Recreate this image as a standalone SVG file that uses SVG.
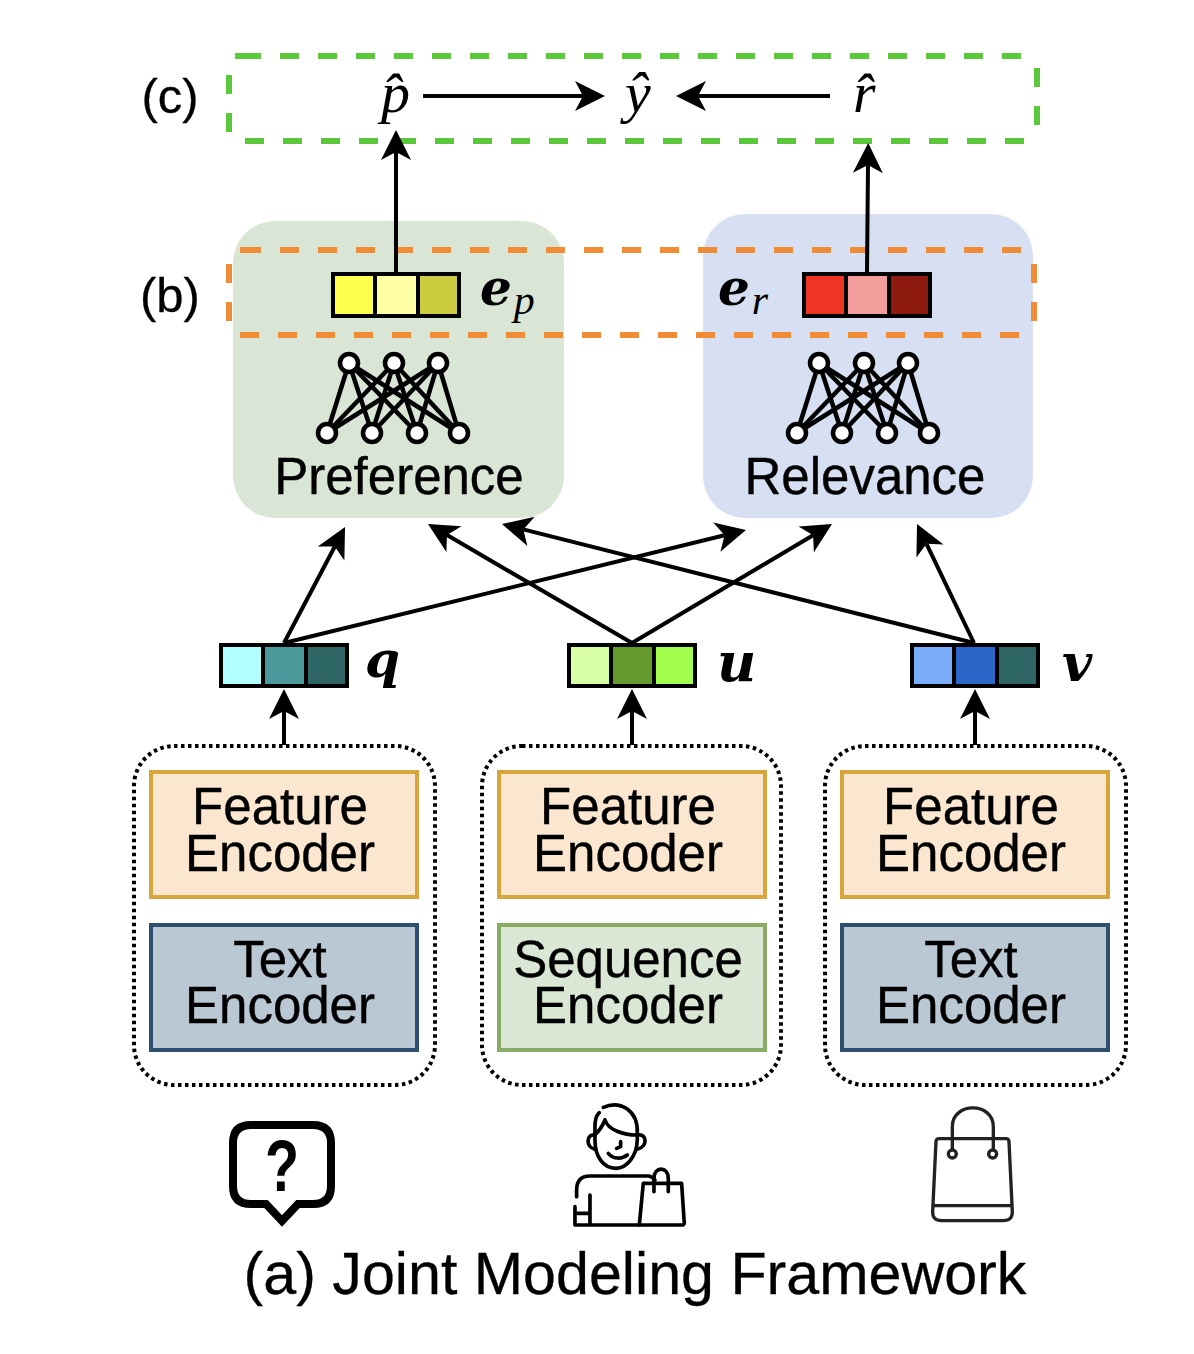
<svg xmlns="http://www.w3.org/2000/svg" width="1194" height="1354" viewBox="0 0 1194 1354">
<style>
text{font-family:"Liberation Sans",Arial,sans-serif;fill:#000;text-anchor:middle}
.lbl{font-size:51px;stroke:#000;stroke-width:.4px}
.side{font-size:49px;stroke:#000;stroke-width:.3px}
.m{font-family:"Liberation Serif","Times New Roman",serif;font-style:italic;font-size:58px;text-anchor:start}
.b{font-family:"DejaVu Serif",serif;font-style:italic;font-weight:bold;font-size:50px;text-anchor:start}
.s{font-family:"Liberation Serif","Times New Roman",serif;font-style:italic;font-weight:normal;font-size:42px;text-anchor:start}
.c{fill:none;stroke:#000;stroke-width:4;marker-end:url(#arr)}
.g{fill:none;stroke:#5ac83a;stroke-width:6;stroke-dasharray:19 19}
.o{fill:none;stroke:#f08c36;stroke-width:6;stroke-dasharray:19 19}
.dot{fill:none;stroke:#000;stroke-width:4;stroke-dasharray:3.5 3.5}
.fe{fill:#fbe6d0;stroke:#d8a43c;stroke-width:4}
.te{fill:#bac8d3;stroke:#2f4f70;stroke-width:4}
.se{fill:#d9e7d4;stroke:#88ab66;stroke-width:4}
.v{stroke:#000;stroke-width:4}
.nn line{stroke:#000;stroke-width:4.5}
.nn circle{fill:#fff;stroke:#000;stroke-width:4.5}
.ic{fill:none;stroke:#000;stroke-width:11;stroke-linecap:round;stroke-linejoin:round}
</style>
<defs>
<marker id="arr" markerUnits="userSpaceOnUse" orient="auto" refX="0" refY="0" overflow="visible" markerWidth="40" markerHeight="40">
<path d="M22,0 L-8,-15 L0,0 L-8,15 Z" fill="#000"/>
</marker>
<g id="net">
<g class="nn">
<line x1="349" y1="363" x2="327" y2="433"/><line x1="349" y1="363" x2="372" y2="433"/><line x1="349" y1="363" x2="417" y2="433"/><line x1="349" y1="363" x2="459" y2="433"/>
<line x1="394" y1="363" x2="327" y2="433"/><line x1="394" y1="363" x2="372" y2="433"/><line x1="394" y1="363" x2="417" y2="433"/><line x1="394" y1="363" x2="459" y2="433"/>
<line x1="438" y1="363" x2="327" y2="433"/><line x1="438" y1="363" x2="372" y2="433"/><line x1="438" y1="363" x2="417" y2="433"/><line x1="438" y1="363" x2="459" y2="433"/>
<circle cx="349" cy="363" r="9"/><circle cx="394" cy="363" r="9"/><circle cx="438" cy="363" r="9"/>
<circle cx="327" cy="433" r="9"/><circle cx="372" cy="433" r="9"/><circle cx="417" cy="433" r="9"/><circle cx="459" cy="433" r="9"/>
</g>
</g>
</defs>
<rect width="1194" height="1354" fill="#fff"/>

<g id="preference">
<rect x="233" y="221" width="331" height="297" rx="42" fill="#d9e6d6"/>
<use href="#net"/>
<text class="lbl" x="399" y="494">Preference</text>
</g>
<g id="relevance">
<rect x="703" y="214" width="330" height="304" rx="42" fill="#d7e0f2"/>
<use href="#net" x="470"/>
<text class="lbl" x="865" y="494">Relevance</text>
</g>

<g id="region-c">
<path d="M235 56H261" class="g" style="stroke-dasharray:none"/>
<path d="M280 56H1024" class="g"/>
<path d="M245 141H1028" class="g"/>
<path d="M229 75V133" class="g"/>
<path d="M1037 68V126" class="g"/>
<text class="side" x="170" y="113">(c)</text>
</g>
<g id="region-b">
<path d="M240 250H261" class="o" style="stroke-dasharray:none"/>
<path d="M280 250H1024" class="o"/>
<path d="M240 335H1022" class="o"/>
<path d="M229 264V321" class="o"/>
<path d="M1034 264V321" class="o"/>
<text class="side" x="170" y="312">(b)</text>
</g>

<g id="vec-ep">
<rect x="333" y="274" width="42" height="42" fill="#ffff4d" class="v"/><rect x="375" y="274" width="43" height="42" fill="#ffffa6" class="v"/><rect x="418" y="274" width="41" height="42" fill="#cccc40" class="v"/>
<text x="480" y="305" class="b">e<tspan class="s" dx="2" dy="9">p</tspan></text>
</g>
<g id="vec-er">
<rect x="804" y="274" width="42" height="42" fill="#ee3524" class="v"/><rect x="846" y="274" width="43" height="42" fill="#f29c9c" class="v"/><rect x="889" y="274" width="41" height="42" fill="#8e1a10" class="v"/>
<text x="718" y="305" class="b">e<tspan class="s" dx="2" dy="9">r</tspan></text>
</g>
<g id="vec-q">
<rect x="221" y="645" width="42" height="41" fill="#b2ffff" class="v"/><rect x="263" y="645" width="43" height="41" fill="#4a9a9c" class="v"/><rect x="306" y="645" width="41" height="41" fill="#2e6666" class="v"/>
<text x="365" y="677" class="b">q</text>
</g>
<g id="vec-u">
<rect x="569" y="645" width="42" height="41" fill="#d9ffa6" class="v"/><rect x="611" y="645" width="43" height="41" fill="#659a2e" class="v"/><rect x="654" y="645" width="41" height="41" fill="#a3ff4d" class="v"/>
<text x="717" y="681" class="b" style="font-size:54px">u</text>
</g>
<g id="vec-v">
<rect x="912" y="645" width="42" height="41" fill="#7aaefa" class="v"/><rect x="954" y="645" width="43" height="41" fill="#2c66c8" class="v"/><rect x="997" y="645" width="41" height="41" fill="#2e6666" class="v"/>
<text x="1062" y="681" class="b" style="font-size:52px">v</text>
</g>

<g id="out-p"><text x="381" y="112" class="m">p&#770;</text></g>
<g id="out-y"><text x="625" y="112" class="m">y&#770;</text></g>
<g id="out-r"><text x="853" y="112" class="m">r&#770;</text></g>

<g id="connectors">
<path class="c" d="M423 96H583"/>
<path class="c" d="M830 96H698"/>
<path class="c" d="M396 272V152"/>
<path class="c" d="M867 272L868 165"/>
<path class="c" d="M284 643L334.8 546.5"/>
<path class="c" d="M284 643L724.6 535.2"/>
<path class="c" d="M632 643L447 535.1"/>
<path class="c" d="M632 643L813.1 535.2"/>
<path class="c" d="M974 643L926.5 543.8"/>
<path class="c" d="M974 643L523.3 529.4"/>
<path class="c" d="M284 745V711"/>
<path class="c" d="M632 745V711"/>
<path class="c" d="M975 745V711"/>
</g>

<g id="query-encoders">
<rect class="dot" x="134" y="746" width="301" height="339" rx="40"/>
<rect class="fe" x="151" y="772" width="266" height="125"/>
<text class="lbl" x="280" y="824">Feature</text><text class="lbl" x="280" y="871">Encoder</text>
<rect class="te" x="151" y="925" width="266" height="125"/>
<text class="lbl" x="280" y="977">Text</text><text class="lbl" x="280" y="1023">Encoder</text>
</g>
<g id="user-encoders">
<rect class="dot" x="482" y="746" width="299" height="339" rx="40"/>
<rect class="fe" x="499" y="772" width="266" height="125"/>
<text class="lbl" x="628" y="824">Feature</text><text class="lbl" x="628" y="871">Encoder</text>
<rect class="se" x="499" y="925" width="266" height="125"/>
<text class="lbl" x="628" y="977">Sequence</text><text class="lbl" x="628" y="1023">Encoder</text>
</g>
<g id="item-encoders">
<rect class="dot" x="825" y="746" width="301" height="339" rx="40"/>
<rect class="fe" x="842" y="772" width="266" height="125"/>
<text class="lbl" x="971" y="824">Feature</text><text class="lbl" x="971" y="871">Encoder</text>
<rect class="te" x="842" y="925" width="266" height="125"/>
<text class="lbl" x="971" y="977">Text</text><text class="lbl" x="971" y="1023">Encoder</text>
</g>

<g id="icon-query">
<path d="M251 1125H313Q331 1125 331 1143V1186Q331 1204 313 1204H298L282 1221L266 1204H251Q233 1204 233 1186V1143Q233 1125 251 1125Z" fill="none" stroke="#000" stroke-width="8"/>
<text x="282" y="1191" style="font-weight:bold;font-size:72px" textLength="34" lengthAdjust="spacingAndGlyphs">?</text>
</g>
<g id="icon-user" transform="translate(200 1090) scale(.3333)">
<path class="ic" d="M1210,52C1260,30 1315,60 1312,130L1312,150C1310,200 1280,235 1248,235C1210,235 1185,200 1185,150L1185,110C1185,90 1190,75 1198,68"/>
<path class="ic" d="M1215,90C1225,120 1270,135 1312,135M1215,90C1205,115 1195,125 1185,135"/>
<path class="ic" d="M1185,135C1160,130 1155,170 1185,178M1315,135C1340,130 1345,170 1312,178"/>
<path class="ic" d="M1262,155L1262,170L1250,175M1225,190C1240,208 1265,208 1282,195"/>
<path class="ic" d="M1130,320L1130,300C1130,270 1145,258 1170,258L1345,258C1355,258 1360,265 1365,270"/>
<path class="ic" d="M1125,350L1125,405L1450,405M1125,370L1170,370M1170,315L1170,405"/>
<path class="ic" d="M1318,405L1330,280L1445,280L1453,400M1362,305L1362,265C1362,228 1405,228 1405,265L1405,305"/>
</g>
<g id="icon-item" transform="translate(900 1090) scale(.3333)">
<path d="M118,146L318,146Q327,146 327,155L337,365Q338,392 310,392L125,392Q97,392 98,365L108,155Q108,146 118,146Z" fill="none" stroke="#222" stroke-width="10"/>
<path d="M100,347H335M157,180L157,110C157,35 280,35 280,110L280,180" fill="none" stroke="#222" stroke-width="10"/>
<circle cx="157" cy="192" r="12" fill="#fff" stroke="#222" stroke-width="10"/>
<circle cx="278" cy="192" r="12" fill="#fff" stroke="#222" stroke-width="10"/>
</g>

<text id="caption" x="635" y="1294" style="font-size:59.2px;stroke:#000;stroke-width:.3px">(a) Joint Modeling Framework</text>
</svg>
